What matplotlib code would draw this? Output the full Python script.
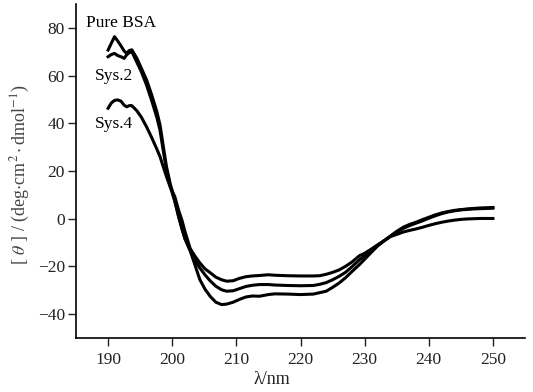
import matplotlib
matplotlib.use("Agg")
import matplotlib.pyplot as plt

# wavelength (nm) and molar ellipticity
WL_PEAK = [190.0, 190.5, 191.0, 191.5, 192.0, 192.5, 192.9, 193.3, 193.7, 194.1,
           194.5, 195.2, 196.0, 196.8, 197.6, 198.1, 198.6, 199.1, 199.7, 200.4,
           201.0, 201.5, 202.0]
WL_TAIL = [202.8, 203.5, 204.3, 205.1, 205.9, 206.8, 207.7, 208.5, 209.5, 210.5,
           211.5, 212.5, 213.6, 215.0, 216.0, 218.0, 220.0, 222.0, 223.0, 224.0,
           225.0, 226.0, 227.0, 228.0, 229.2, 230.0, 231.0, 232.0, 233.0, 234.0,
           235.0, 236.0, 237.0, 238.0, 239.0, 240.0, 241.0, 242.0, 243.0, 244.0,
           245.0, 246.0, 247.0, 248.0, 249.0, 250.0]

pure_bsa_peak = [70.7, 73.5, 76.3, 74.5, 72.5, 70.3, 69.3, 70.5, 70.8, 69.0,
                 67.2, 63.0, 58.2, 51.9, 44.9, 39.3, 30.5, 21.9, 14.5, 7.9,
                 1.0, -4.0, -8.5]
pure_bsa_tail = [-13.5, -19.0, -25.5, -29.5, -32.5, -35.0, -36.0, -35.8, -35.0, -33.8,
                 -32.8, -32.4, -32.5, -31.8, -31.5, -31.6, -31.8, -31.6, -31.0, -30.4,
                 -28.8, -27.0, -24.8, -22.2, -19.2, -17.0, -14.2, -11.5, -9.3, -7.3,
                 -5.3, -3.6, -2.4, -1.5, -0.4, 0.6, 1.6, 2.4, 3.0, 3.5,
                 3.8, 4.1, 4.3, 4.5, 4.6, 4.7]

sys2_peak = [67.9, 68.8, 69.3, 68.4, 67.9, 67.2, 68.7, 69.6, 70.0, 67.8,
             65.5, 61.5, 56.0, 49.5, 42.5, 37.0, 28.5, 20.5, 13.5, 7.2,
             0.8, -4.0, -8.5]
sys2_tail = [-13.0, -17.0, -20.6, -23.5, -26.0, -28.3, -29.8, -30.4, -30.2, -29.3,
             -28.4, -27.9, -27.6, -27.6, -27.8, -28.0, -28.1, -28.0, -27.5, -26.8,
             -25.6, -24.2, -22.5, -20.2, -17.2, -15.6, -13.3, -11.2, -9.3, -7.4,
             -5.6, -4.1, -2.9, -1.9, -0.9, 0.2, 1.2, 2.1, 2.8, 3.3,
             3.7, 3.9, 4.1, 4.2, 4.3, 4.4]

sys4_peak = [46.3, 48.5, 49.6, 49.8, 49.3, 47.6, 46.9, 47.4, 47.4, 46.3,
             45.2, 42.5, 38.5, 34.0, 29.2, 26.0, 21.8, 17.7, 13.2, 9.3,
             3.5, -0.5, -5.5]
sys4_tail = [-12.5, -15.5, -18.5, -21.0, -22.6, -24.5, -25.6, -26.2, -26.0, -25.0,
             -24.3, -24.0, -23.8, -23.5, -23.7, -23.9, -24.0, -24.0, -23.9, -23.3,
             -22.5, -21.5, -20.0, -18.2, -15.5, -14.5, -12.8, -11.0, -9.3, -7.5,
             -6.6, -5.6, -4.9, -4.3, -3.6, -2.8, -2.1, -1.5, -1.0, -0.6,
             -0.3, -0.1, 0.0, 0.1, 0.1, 0.1]

LABELS = ["Pure BSA", "Sys.2", "Sys.4"]
X_TICKS = [190, 200, 210, 220, 230, 240, 250]
Y_TICKS = [-40, -20, 0, 20, 40, 60, 80]

plt.rcParams["font.family"] = ["Liberation Serif", "DejaVu Serif"]
plt.rcParams["mathtext.fontset"] = "stix"

fig = plt.figure(figsize=(5.33, 3.92), dpi=100)
ax = fig.add_axes([0.1426, 0.1378, 0.8424, 0.852])

wl = WL_PEAK + WL_TAIL
for peak, tail in [(pure_bsa_peak, pure_bsa_tail), (sys2_peak, sys2_tail),
                   (sys4_peak, sys4_tail)]:
    ax.plot(wl, peak + tail, color="black", lw=2.2, solid_joinstyle="round")

ax.set_xlim(185, 255)
ax.set_ylim(-50, 90)
ax.set_xticks(X_TICKS)
ax.set_yticks(Y_TICKS)
ax.set_yticklabels([str(t).replace("-", "\u2212") for t in Y_TICKS])

for side in ["top", "right"]:
    ax.spines[side].set_visible(False)
for side in ["left", "bottom"]:
    ax.spines[side].set_linewidth(1.2)
ax.tick_params(direction="out", length=6, width=1.0, labelsize=12.5,
               colors="#222222")
ax.tick_params(axis="x", pad=4)
ax.tick_params(axis="y", pad=2)

ax.text(192.1, 82.0, LABELS[0], fontsize=12.5, ha="center", va="center")
ax.text(190.9, 59.8, LABELS[1], fontsize=12.5, ha="center", va="center")
ax.text(190.9, 39.7, LABELS[2], fontsize=12.5, ha="center", va="center")

ax.set_xlabel("λ/nm", fontsize=13, color="#222222")
ax.xaxis.set_label_coords(0.437, -0.1)
ax.set_ylabel(r"[ $\theta$ ] / (deg$\cdot$cm$^2\cdot$dmol$^{-1}$)",
              fontsize=13, color="#444444")
ax.yaxis.set_label_coords(-0.098, 0.49)

fig.savefig("out.png", dpi=100)
